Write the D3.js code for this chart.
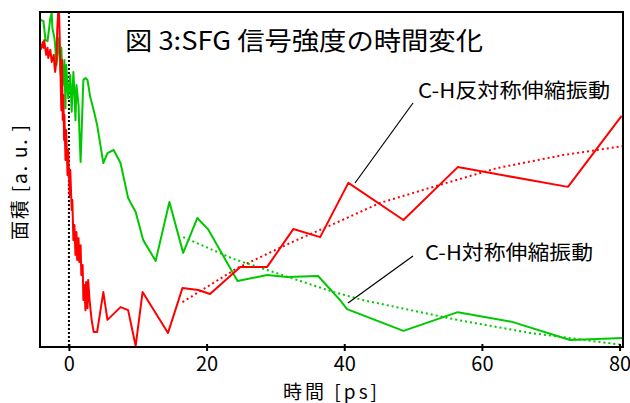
<!DOCTYPE html>
<html>
<head>
<meta charset="utf-8">
<script src="https://cdn.jsdelivr.net/npm/d3@7"></script>
<style>
  body { margin: 0; background: #fff; }
  text { font-family: "Noto Sans CJK JP", "Liberation Sans", sans-serif; }
</style>
</head>
<body>
<svg></svg>
<script>
// C-H antisymmetric stretch (red)
let asymTime = [-4.1, -3.8, -3.7, -3.6, -3.3, -3.1, -3.0, -2.7, -2.5, -2.2, -2.1, -2.0, -1.8, -1.7, -1.5, -1.4, -1.2, -1.1, -1.0, -0.9, -0.8, -0.7, -0.65, -0.5, -0.4, -0.2, -0.1, 0.1, 0.2, 0.4, 0.5, 0.65, 0.8, 0.95, 1.1, 1.2, 1.4, 1.5, 1.7, 1.8, 2.0, 2.1, 2.25, 2.4, 2.5, 2.7, 2.8, 3.0, 3.3, 3.6, 4.1, 5.0, 5.6, 7.5, 8.6, 9.7, 10.7, 14.4, 16.5, 18.8, 20.5, 24.9, 28.8, 32.6, 36.5, 40.6, 48.6, 56.5, 72.5, 80.3]
let asymArea = [88.7, 91.0, 89.3, 91.6, 87.2, 89.3, 86.3, 88.7, 85.1, 87.2, 83.9, 82.1, 85.7, 94.6, 102.1, 97.6, 79.7, 70.7, 85.7, 67.8, 75.2, 61.8, 69.3, 55.8, 64.8, 51.3, 58.8, 45.4, 52.8, 40.9, 43.9, 31.9, 36.4, 27.5, 34.3, 26.0, 32.5, 25.4, 30.4, 21.5, 24.5, 14.0, 18.5, 11.0, 19.4, 11.6, 20.0, 14.0, 8.1, 4.5, 4.5, 16.4, 8.1, 11.9, 11.0, 0.3, 16.4, 4.2, 17.6, 17.0, 15.8, 23.9, 23.9, 35.2, 32.8, 49.0, 37.9, 53.7, 47.8, 69.0]

// C-H symmetric stretch (green)
let symTime = [-4.1, -3.7, -3.4, -3.1, -2.7, -2.5, -2.4, -2.1, -2.0, -1.8, -1.5, -1.2, -1.1, -0.9, -0.65, -0.5, -0.4, -0.1, 0.2, 0.4, 0.65, 0.8, 0.95, 1.1, 1.4, 1.5, 1.7, 2.0, 2.1, 2.4, 2.7, 3.1, 3.6, 4.1, 5.0, 5.6, 6.5, 7.5, 8.6, 9.7, 10.8, 12.6, 14.6, 16.6, 18.65, 20.2, 24.5, 28.8, 31.7, 36.2, 39.4, 40.4, 48.6, 56.5, 64.4, 72.8, 76.7, 80.5]
let symArea = [97.6, 97.3, 91.6, 91.3, 98.2, 99.7, 95.2, 92.2, 90.1, 84.2, 92.2, 81.4, 89.3, 78.1, 85.7, 71.3, 84.2, 74.3, 81.2, 70.2, 82.1, 76.1, 67.7, 78.2, 72.2, 65.7, 55.2, 73.7, 79.7, 80.3, 79.7, 74.6, 70.7, 66.3, 54.9, 57.9, 58.8, 54.9, 44.5, 40.3, 31.9, 25.7, 43.3, 28.1, 38.5, 35.2, 19.7, 21.5, 20.9, 21.2, 14.0, 11.3, 4.8, 10.4, 7.5, 2.1, 2.4, 2.7]

// dotted trend curves
let asymFitTime = [16.5, 24.5, 32.1, 39.4, 45.2, 53.9, 62.2, 71.8, 80.5]
let asymFitArea = [13.4, 23.6, 31.0, 37.6, 43.0, 48.4, 53.4, 57.3, 60.0]
let symFitTime = [16.6, 23.9, 28.8, 38.0, 42.7, 56.4, 67.0, 80.5]
let symFitArea = [32.8, 26.3, 23.0, 16.7, 14.0, 8.1, 4.2, 0.6]

let xTicks = [0, 20, 40, 60, 80]

let svgWidth = 630
let svgHeight = 403
let margin = { top: 12, right: 7, bottom: 56, left: 40 }

let svg = d3.select('svg')
    .attr('width', svgWidth)
    .attr('height', svgHeight)

let xScale = d3.scaleLinear()
    .domain([-4.2, 80.5])
    .range([margin.left, svgWidth - margin.right])

let yScale = d3.scaleLinear()
    .domain([0, 100])
    .range([svgHeight - margin.bottom, margin.top])

svg.append('clipPath')
    .attr('id', 'plotClip')
    .append('rect')
    .attr('x', margin.left)
    .attr('y', margin.top)
    .attr('width', svgWidth - margin.left - margin.right)
    .attr('height', svgHeight - margin.top - margin.bottom)

let line = d3.line()
    .x(d => xScale(d[0]))
    .y(d => yScale(d[1]))

let plot = svg.append('g').attr('clip-path', 'url(#plotClip)')

// time zero marker
plot.append('line')
    .attr('x1', xScale(0))
    .attr('x2', xScale(0))
    .attr('y1', yScale(100))
    .attr('y2', yScale(0))
    .attr('stroke', 'black')
    .attr('stroke-width', 2)
    .attr('stroke-dasharray', '2,2')

let series = [
    { t: asymFitTime, a: asymFitArea, color: '#ff0000', dash: '2,3' },
    { t: symFitTime, a: symFitArea, color: '#00c800', dash: '2,3' },
    { t: symTime, a: symArea, color: '#00c800', dash: null },
    { t: asymTime, a: asymArea, color: '#ff0000', dash: null }
]

series.forEach(s => {
    plot.append('path')
        .datum(s.t.map((t, i) => [t, s.a[i]]))
        .attr('d', line)
        .attr('fill', 'none')
        .attr('stroke', s.color)
        .attr('stroke-width', 2)
        .attr('stroke-linejoin', 'round')
        .attr('stroke-dasharray', s.dash)
})

// frame
svg.append('rect')
    .attr('x', margin.left)
    .attr('y', margin.top)
    .attr('width', svgWidth - margin.left - margin.right)
    .attr('height', svgHeight - margin.top - margin.bottom)
    .attr('fill', 'none')
    .attr('stroke', 'black')
    .attr('stroke-width', 2)

let xAxis = svg.append('g')
    .attr('transform', 'translate(0,' + (svgHeight - margin.bottom) + ')')
    .call(d3.axisBottom(xScale).tickValues(xTicks).tickSize(4).tickPadding(6))

xAxis.select('.domain').remove()
xAxis.selectAll('.tick line')
    .attr('y1', -3)
    .attr('stroke-width', 2)
xAxis.selectAll('.tick text')
    .attr('font-family', '"Liberation Sans", sans-serif')
    .attr('font-size', 20)
    .attr('fill', 'black')

svg.append('text')
    .attr('x', 283)
    .attr('y', 399)
    .attr('font-size', 19)
    .attr('textLength', 94)
    .attr('lengthAdjust', 'spacing')
    .text('時間 [ps]')

svg.append('text')
    .attr('transform', 'translate(18,240) rotate(-90)')
    .attr('dominant-baseline', 'central')
    .attr('font-size', 19)
    .attr('textLength', 115)
    .attr('lengthAdjust', 'spacing')
    .text('面積 [a. u. ]')

// title
svg.append('text')
    .attr('x', 125)
    .attr('y', 50)
    .attr('font-size', 25)
    .attr('textLength', 358)
    .attr('lengthAdjust', 'spacingAndGlyphs')
    .text('図 3:SFG 信号強度の時間変化')

// annotations with leader lines
let notes = [
    { text: 'C-H反対称伸縮振動', x: 418, y: 98, len: 192, from: [413, 103], to: [355, 183] },
    { text: 'C-H対称伸縮振動', x: 425, y: 260, len: 168, from: [413, 256], to: [348, 303] }
]

notes.forEach(n => {
    svg.append('text')
        .attr('x', n.x)
        .attr('y', n.y)
        .attr('font-size', 20)
        .attr('textLength', n.len)
        .attr('lengthAdjust', 'spacingAndGlyphs')
        .text(n.text)
    svg.append('line')
        .attr('x1', n.from[0])
        .attr('y1', n.from[1])
        .attr('x2', n.to[0])
        .attr('y2', n.to[1])
        .attr('stroke', 'black')
        .attr('stroke-width', 1.2)
})
</script>
</body>
</html>
